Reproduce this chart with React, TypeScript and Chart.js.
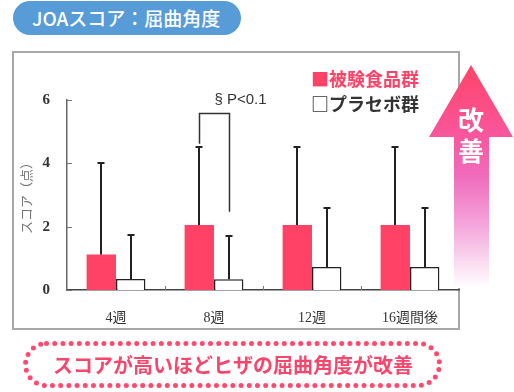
import React, { useEffect, useRef } from 'react';
import { Chart, registerables } from 'chart.js';

Chart.register(...registerables);

const categories = ['4週', '8週', '12週', '16週間後'];
const seriesLabels = ['被験食品群', 'プラセボ群'];
const testValues = [1.12, 2.05, 2.05, 2.05];
const testSD = [2.88, 2.47, 2.47, 2.47];
const placeboValues = [0.35, 0.34, 0.73, 0.73];
const placeboSD = [1.38, 1.37, 1.85, 1.85];
const yTicks = [0, 2, 4, 6];
const bracketIndex = 1;
const bracketTop = 5.58;
const bracketLeftEnd = 4.62;
const bracketRightEnd = 2.47;
const bracketLabel = '§ P<0.1';

const RED = '#ff4266';
const PINK_TEXT = '#f7466c';

const decor = {
  id: 'decor',
  afterDatasetsDraw(chart: any) {
    const ctx = chart.ctx as CanvasRenderingContext2D;
    const xs = chart.scales.x;
    const ys = chart.scales.y;
    const area = chart.chartArea;
    ctx.save();
    // inward y ticks
    ctx.strokeStyle = '#777';
    ctx.lineWidth = 1;
    yTicks.forEach((v) => {
      const py = Math.round(ys.getPixelForValue(v)) + 0.5;
      ctx.beginPath();
      ctx.moveTo(area.left, py);
      ctx.lineTo(area.left + 5, py);
      ctx.stroke();
    });
    // category boundary ticks
    for (let i = 1; i < categories.length; i++) {
      const px = Math.round((xs.getPixelForTick(i - 1) + xs.getPixelForTick(i)) / 2) + 0.5;
      ctx.beginPath();
      ctx.moveTo(px, area.bottom);
      ctx.lineTo(px, area.bottom - 4);
      ctx.stroke();
    }
    // error bars
    const groups: [number[], number[], number][] = [
      [testValues, testSD, 0],
      [placeboValues, placeboSD, 1],
    ];
    ctx.strokeStyle = '#222';
    ctx.lineWidth = 2;
    groups.forEach(([vals, sds, di]) => {
      const meta = chart.getDatasetMeta(di);
      meta.data.forEach((bar: any, i: number) => {
        const cx = Math.round(bar.x);
        const y0 = ys.getPixelForValue(vals[i]);
        const y1 = Math.round(ys.getPixelForValue(vals[i] + sds[i]));
        ctx.beginPath();
        ctx.moveTo(cx, y0);
        ctx.lineTo(cx, y1);
        ctx.moveTo(cx - 3.5, y1);
        ctx.lineTo(cx + 3.5, y1);
        ctx.stroke();
      });
    });
    // significance bracket
    const b0 = chart.getDatasetMeta(0).data[bracketIndex];
    const b1 = chart.getDatasetMeta(1).data[bracketIndex];
    const bt = Math.round(ys.getPixelForValue(bracketTop)) + 0.5;
    const lx = Math.round(b0.x) + 0.5;
    const rx = Math.round(b1.x) + 0.5;
    ctx.strokeStyle = '#333';
    ctx.lineWidth = 1.5;
    ctx.beginPath();
    ctx.moveTo(lx, ys.getPixelForValue(bracketLeftEnd));
    ctx.lineTo(lx, bt);
    ctx.lineTo(rx, bt);
    ctx.lineTo(rx, ys.getPixelForValue(bracketRightEnd));
    ctx.stroke();
    ctx.fillStyle = '#333';
    ctx.font = '15px "Liberation Sans", Arial, sans-serif';
    ctx.textAlign = 'left';
    ctx.textBaseline = 'alphabetic';
    ctx.fillText(bracketLabel, (lx + rx) / 2, bt - 10);
    ctx.restore();
  },
};

export default function App() {
  const ref = useRef<HTMLCanvasElement | null>(null);

  useEffect(() => {
    if (!ref.current) return;
    const chart = new Chart(ref.current, {
      type: 'bar',
      data: {
        labels: categories,
        datasets: [
          {
            label: seriesLabels[0],
            data: testValues,
            backgroundColor: RED,
            borderWidth: 0,
          },
          {
            label: seriesLabels[1],
            data: placeboValues,
            backgroundColor: '#ffffff',
            borderColor: '#222',
            borderWidth: { top: 1.5, left: 1.5, right: 1.5, bottom: 0 },
          },
        ],
      },
      options: {
        responsive: false,
        animation: false,
        devicePixelRatio: 1,
        layout: { padding: { left: 13, right: 55, top: 100, bottom: 63 } },
        datasets: { bar: { categoryPercentage: 0.6, barPercentage: 1 } },
        plugins: { legend: { display: false }, tooltip: { enabled: false } },
        scales: {
          x: {
            grid: { display: false, drawTicks: false },
            border: { color: '#444', width: 1.5 },
            ticks: {
              font: { family: '"Liberation Serif", "Noto Sans CJK JP", serif', size: 14 },
              color: '#333',
              padding: 20,
            },
            afterFit(s: any) {
              s.height = 39;
            },
          },
          y: {
            min: 0,
            max: 6,
            afterBuildTicks(s: any) {
              s.ticks = yTicks.map((v) => ({ value: v }));
            },
            grid: { display: false, drawTicks: false },
            border: { color: '#666', width: 1.5 },
            ticks: {
              font: { family: '"Liberation Serif", serif', size: 15, weight: 'bold' },
              color: '#333',
              padding: 17,
            },
            title: {
              display: true,
              text: 'スコア（点）',
              font: { family: '"Noto Sans CJK JP", sans-serif', size: 13 },
              color: '#777',
              padding: { top: 5, bottom: 0 },
            },
            afterFit(s: any) {
              s.width = 54;
            },
          },
        },
      } as any,
      plugins: [decor],
    });
    return () => chart.destroy();
  }, []);

  const jp = '"Noto Sans CJK JP", sans-serif';

  return (
    <div
      style={{
        position: 'absolute',
        left: 0,
        top: 0,
        width: 514,
        height: 392,
        overflow: 'hidden',
        background: '#fff',
        fontFamily: jp,
      }}
    >
      <div
        style={{
          position: 'absolute',
          left: 13,
          top: 1,
          width: 228,
          height: 34,
          borderRadius: 17,
          background: '#579bd7',
          color: '#fff',
          fontSize: 19,
          lineHeight: '34px',
          paddingLeft: 19,
          boxSizing: 'border-box',
          fontWeight: 500,
          whiteSpace: 'nowrap',
        }}
      >
        JOAスコア：屈曲角度
      </div>
      <div
        style={{
          position: 'absolute',
          left: 12,
          top: 51,
          width: 448,
          height: 279,
          border: '2px solid #a8a8a8',
          boxSizing: 'border-box',
        }}
      />
      <canvas ref={ref} width={514} height={392} style={{ position: 'absolute', left: 0, top: 0 }} />
      <div
        style={{
          position: 'absolute',
          left: 311,
          top: 69,
          fontSize: 18,
          lineHeight: '18px',
          fontWeight: 700,
          color: RED,
          whiteSpace: 'nowrap',
        }}
      >
        ■{seriesLabels[0]}
      </div>
      <div
        style={{
          position: 'absolute',
          left: 311,
          top: 94,
          fontSize: 18,
          lineHeight: '18px',
          fontWeight: 700,
          color: '#333',
          whiteSpace: 'nowrap',
        }}
      >
        □{seriesLabels[1]}
      </div>
      <svg width={514} height={392} style={{ position: 'absolute', left: 0, top: 0, pointerEvents: 'none' }}>
        <defs>
          <linearGradient id="ag" x1="0" y1="65" x2="0" y2="288" gradientUnits="userSpaceOnUse">
            <stop offset="0" stopColor="#ff4468" />
            <stop offset="0.3" stopColor="#f9559a" />
            <stop offset="0.5" stopColor="#f06cbc" />
            <stop offset="0.72" stopColor="#f4a6dc" />
            <stop offset="0.9" stopColor="#fbe0f2" />
            <stop offset="1" stopColor="#ffffff" />
          </linearGradient>
        </defs>
        <polygon points="471,65 513,137 489,137 489,288 454,288 454,137 429,137" fill="url(#ag)" />
        <text x={471} y={118} textAnchor="middle" dominantBaseline="central" fill="#fff" fontSize={26} fontWeight={700} fontFamily={jp}>
          改
        </text>
        <text x={471} y={149} textAnchor="middle" dominantBaseline="central" fill="#fff" fontSize={26} fontWeight={700} fontFamily={jp}>
          善
        </text>
        <rect
          x={25.5}
          y={343.5}
          width={414}
          height={42}
          rx={21}
          fill="none"
          stroke="#ff4a6e"
          strokeWidth={5}
          strokeDasharray="0 8.2"
          strokeLinecap="round"
        />
        <text x={233} y={364} textAnchor="middle" dominantBaseline="central" fill={PINK_TEXT} fontSize={20} fontWeight={700} fontFamily={jp}>
          スコアが高いほどヒザの屈曲角度が改善
        </text>
      </svg>
    </div>
  );
}
